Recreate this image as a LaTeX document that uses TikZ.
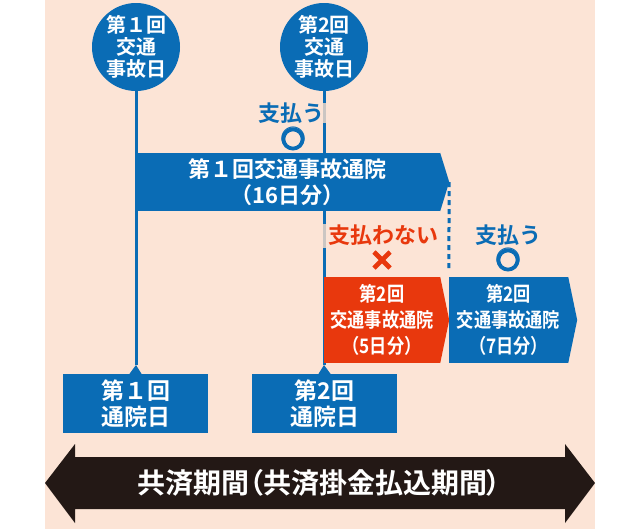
\documentclass[tikz,border=0pt]{standalone}
\usepackage{fontspec}
\newfontfamily\jp{Noto Sans CJK JP Bold}
\newfontfamily\jpp{Noto Sans CJK JP Bold}[RawFeature=+palt]
\newfontfamily\jpc{Noto Sans CJK JP Bold}[FakeStretch=0.86]
\usetikzlibrary{calc}
\definecolor{bgpink}{HTML}{FCE4D6}
\definecolor{kblue}{HTML}{0A6CB5}
\definecolor{kred}{HTML}{E8380D}
\definecolor{kdark}{HTML}{231815}
\definecolor{kgap}{HTML}{CBC6C3}
\begin{document}
\begin{tikzpicture}[x=1pt,y=-1pt,
  dotnode/.style={circle, fill=kblue, minimum size=88pt, inner sep=0pt, text=white,
    align=center, font=\jp\fontsize{20}{22}\selectfont},
  bandnode/.style={rectangle, fill=#1, inner sep=0pt, text=white, align=center},
  daybox/.style={rectangle, fill=kblue, inner sep=0pt, minimum width=145pt, minimum height=59pt,
    text=white, align=center, font=\jp\fontsize{23}{26}\selectfont},
  vline/.style={draw=kblue, line width=3pt},
  paylabel/.style={font=\jp\fontsize{22}{24}\selectfont, inner sep=0pt},
  markglyph/.style={font=\jp\fontsize{26}{26}\selectfont, inner sep=0pt},
  ringmark/.style={draw=#1, line width=3.8pt},
  crossmark/.style={draw=#1, line width=4.6pt},
]
\useasboundingbox (0,0) rectangle (640,531);
\fill[bgpink] (45,0) rectangle (595,529);

% accident-day circles
\node[dotnode] (c1) at (136,47) {第１回\\交通\\事故日};
\node[dotnode] (c2) at (324,47) {第2回\\交通\\事故日};

% hospital-day boxes with notches
\node[daybox] (d1) at (135.5,403.5) {第１回\\通院日};
\node[daybox] (d2) at (324.5,403.5) {第2回\\通院日};
\coordinate (t1) at (136,365);
\coordinate (t2) at (324,365);
\fill[kblue] ($(d1.north)+(-6,0)$) -- (t1) -- ($(d1.north)+(6,0)$) -- cycle;
\fill[kblue] ($(d2.north)+(-6,0)$) -- (t2) -- ($(d2.north)+(6,0)$) -- cycle;

% vertical lines
\draw[vline] (c1.south) -- (t1);
\draw[vline] (c2.south) -- (t2);
\draw[kgap, line width=3pt] (324,103) -- (324,123);
\draw[kgap, line width=3pt] (324,224) -- (324,248);

% first hospital band
\node[bandnode=kblue, minimum width=305pt, minimum height=58pt,
  font=\jp\fontsize{22}{26}\selectfont] (b1) at (287.5,182) {第１回交通事故通院\\（16日分）};
\coordinate (b1tip) at ($(b1.east)+(9,0)$);
\fill[kblue] (b1.north east) -- (b1tip) -- (b1.south east) -- cycle;

% second hospital bands
\node[bandnode=kred, minimum width=116pt, minimum height=86pt,
  font=\jpc\fontsize{20}{26}\selectfont] (b2) at (382,320) {第2回\\交通事故通院\\（5日分）};
\coordinate (b2tip) at ($(b2.east)+(9,0)$);
\fill[kred] (b2.north east) -- (b2tip) -- (b2.south east) -- cycle;

\node[bandnode=kblue, minimum width=119pt, minimum height=86pt,
  font=\jpc\fontsize{20}{26}\selectfont] (b3) at (508.5,320) {第2回\\交通事故通院\\（7日分）};
\coordinate (b3tip) at ($(b3.east)+(9,0)$);
\fill[kblue] (b3.north east) -- (b3tip) -- (b3.south east) -- cycle;

% dashed boundary
\coordinate (dend) at ($(b3.north west)+(0,-5)$);
\draw[kblue, line width=3pt, dash pattern=on 5pt off 4pt] (b1tip) -- (dend);

% payment labels
\node[paylabel, text=kblue] (p1) at (291,113) {支払う};
\node[markglyph, text=kblue] (m1) at (293,139) {○};
\draw[ringmark=kblue] (m1.center) circle (9.6);
\node[paylabel, text=kred] (p2) at (383,235) {支払わない};
\node[markglyph, text=kred] (m2) at (382,260) {×};
\draw[crossmark=kred] ($(m2.center)+(-8,-8)$) -- ($(m2.center)+(8,8)$)
  ($(m2.center)+(-8,8)$) -- ($(m2.center)+(8,-8)$);
\node[paylabel, text=kblue] (p3) at (508,235) {支払う};
\node[markglyph, text=kblue] (m3) at (508,260) {○};
\draw[ringmark=kblue] (m3.center) circle (9.6);

% coverage period double arrow
\fill[kdark] (45,483) -- (75,444) -- (75,457) -- (565,457) -- (565,444) -- (595,483)
  -- (565,523) -- (565,509) -- (75,509) -- (75,523) -- cycle;
\node[text=white, font=\jpp\fontsize{28}{30}\selectfont, inner sep=0pt] (period) at (319,483)
  {共済期間（共済掛金払込期間）};
\end{tikzpicture}
\end{document}
